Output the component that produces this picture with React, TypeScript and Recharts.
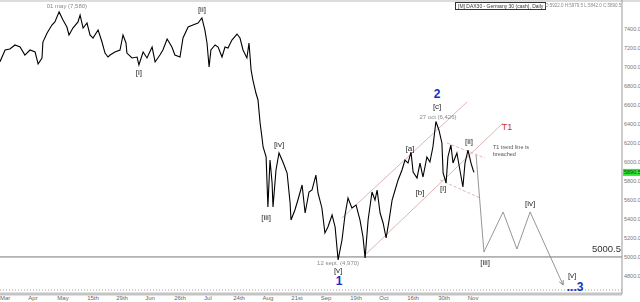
import React from 'react';
import { ComposedChart, Line, XAxis, YAxis, ReferenceLine, ReferenceDot } from 'recharts';

// Daily DAX closes: [trading-day index, price]
const priceSeries: [number, number][] = [
  [0, 7056], [1.7, 7179], [3.3, 7189], [5, 7232], [6.7, 7210], [8.3, 7126], [10, 7179], [11.7, 7158],
  [12.7, 7032], [14, 7095], [14.3, 7263], [15.7, 7358], [17.3, 7442], [18.3, 7474], [19.7, 7580],
  [21, 7495], [22.3, 7421], [23, 7337], [24.3, 7410], [26, 7474], [26.7, 7547], [27.7, 7410],
  [29, 7463], [30, 7337], [31, 7305], [32.7, 7389], [34, 7263], [35, 7147], [36, 7105], [36.7, 7126],
  [38.3, 7158], [40, 7179], [41, 7337], [42, 7253], [42.3, 7147], [44, 7095], [45.7, 7105],
  [46.3, 7021], [47.7, 7158], [49, 7095], [50.7, 7210], [51.7, 7053], [53.3, 7126], [54.3, 7179],
  [55.7, 7295], [57.3, 7210], [58.3, 7126], [60, 7105], [61, 7305], [62.7, 7421], [64.3, 7442],
  [66, 7463], [67.3, 7516], [68.3, 7389], [69, 7253], [69.7, 7000], [70.3, 7179], [71.7, 7232],
  [72.7, 7210], [74, 7105], [75, 7210], [76, 7200], [77.3, 7284], [79, 7347], [80, 7305], [81, 7179],
  [82.3, 7095], [83, 7253], [83.7, 6968], [84.3, 6863], [85.3, 6726], [86, 6653], [86.7, 6410],
  [87.3, 6263], [87.7, 6158], [88.7, 6053], [89.3, 5526], [90, 6021], [90.7, 5779], [91, 5526],
  [92, 5916], [93, 6095], [94.3, 6000], [95.7, 5884], [96.7, 5568], [97, 5389], [98.3, 5495],
  [99.3, 5600], [100.7, 5758], [101.7, 5463], [103, 5684], [104, 5705], [105.3, 5863], [106, 5674],
  [107.3, 5516], [108.3, 5253], [109.3, 5316], [110.7, 5442], [111.7, 5316], [112.7, 4970],
  [114, 5179], [115, 5442], [116, 5621], [117.3, 5516], [118.7, 5547], [120, 5389], [121, 5211],
  [121.7, 4990], [122.7, 5389], [124, 5684], [125, 5600], [125.7, 5705], [126.7, 5463], [127.7, 5358],
  [128.7, 5200], [129.7, 5389], [130.7, 5600], [131.7, 5705], [132.7, 5811], [134, 5916], [135, 6021],
  [136, 5989], [137, 6105], [137.7, 5895], [139, 5832], [140, 5989], [141, 5842], [142.3, 6053],
  [143.3, 6000], [144.3, 6158], [145.3, 6426], [146.3, 6337], [147.3, 6200], [147.7, 5884],
  [148.7, 5779], [149.3, 6053], [150.3, 6179], [151, 5989], [152.3, 6095], [153.3, 5916],
  [154.3, 5737], [155, 5989], [156, 6126], [157, 5989], [157.7, 5916], [158, 5890.5],
];

// Projected wave path [iii] [iv] [v]
const projectionDays = [158.7, 161.3, 167.7, 172.3, 176.7, 187.7];
const projectionValues = [6074, 5053, 5474, 5084, 5474, 4705];

// Trend lines: [day1, value1, day2, value2]
const channelLines: [number, number, number, number][] = [
  [114, 5411, 155.7, 6632],
  [121, 5000, 167.7, 6411],
];
const dashedLines: [number, number, number, number][] = [
  [149, 6200, 161.7, 6042],
  [146.7, 5811, 160, 5621],
];

const supportLevel = 5000.5;
const lastClose = 5890.5;
const footerGuide = 4653;

const yTicks = [4800, 5000, 5200, 5400, 5600, 5800, 6000, 6200, 6400, 6600, 6800, 7000, 7200, 7400];
const xTickDays = [1.7, 11, 21, 31, 40.7, 50, 60, 69.3, 79.7, 89.3, 99, 108.7, 118.7, 128, 137.7, 148, 157.7];
const xTickLabels = ['Mar', 'Apr', 'May', '15th', '29th', 'Jun', '26th', 'Jul', '24th', 'Aug', '21st', 'Sep', '19th', 'Oct', '16th', '30th', 'Nov'];

// Annotations: day, value, text, kind
const annotations: { day: number; value: number; text: string; kind: string }[] = [
  { day: 22.3, value: 7642, text: '01 may (7,580)', kind: 'note' },
  { day: 46.3, value: 6937, text: '[i]', kind: 'wave' },
  { day: 67.3, value: 7610, text: '[ii]', kind: 'wave' },
  { day: 88.7, value: 5421, text: '[iii]', kind: 'wave' },
  { day: 93, value: 6179, text: '[iv]', kind: 'wave' },
  { day: 112.7, value: 4937, text: '12 sept. (4,970)', kind: 'note' },
  { day: 112.7, value: 4853, text: '[v]', kind: 'wave' },
  { day: 113, value: 4747, text: '1', kind: 'major' },
  { day: 136.7, value: 6137, text: '[a]', kind: 'wave' },
  { day: 140, value: 5674, text: '[b]', kind: 'wave' },
  { day: 145.7, value: 6579, text: '[c]', kind: 'wave' },
  { day: 145.7, value: 6716, text: '2', kind: 'major' },
  { day: 146, value: 6474, text: '27 oct (6,426)', kind: 'note' },
  { day: 147.7, value: 5716, text: '[i]', kind: 'wave' },
  { day: 156.3, value: 6211, text: '[ii]', kind: 'wave' },
  { day: 169, value: 6368, text: 'T1', kind: 't1' },
  { day: 164.3, value: 6158, text: 'T1 trend line is', kind: 'comment' },
  { day: 164.3, value: 6084, text: 'breached', kind: 'comment' },
  { day: 161.7, value: 4937, text: '[iii]', kind: 'wave' },
  { day: 176.7, value: 5568, text: '[iv]', kind: 'wave' },
  { day: 190.7, value: 4805, text: '[v]', kind: 'wave' },
  { day: 191.7, value: 4680, text: '...3', kind: 'major' },
  { day: 207, value: 5090, text: '5000.5', kind: 'level' },
];

const FONT = '"Liberation Sans", Arial, sans-serif';
const styles: Record<string, any> = {
  note: { fontSize: 6, fill: '#8a8a8a', anchor: 'middle', weight: 'normal', gray: true },
  wave: { fontSize: 8, fill: '#2a2a2a', anchor: 'middle', weight: 'normal', gray: true },
  major: { fontSize: 12, fill: '#1530c8', anchor: 'middle', weight: 'bold', gray: false },
  t1: { fontSize: 9, fill: '#cc3333', anchor: 'middle', weight: 'normal', gray: false },
  comment: { fontSize: 5.5, fill: '#555', anchor: 'start', weight: 'normal', gray: true },
  level: { fontSize: 9.5, fill: '#333', anchor: 'end', weight: 'normal', gray: true },
};

const priceData = priceSeries.map(([day, close]) => ({ day, close }));
const projectionData = projectionDays.map((day, i) => ({ day, proj: projectionValues[i] }));

const X_MAX = 207.33;
const Y_MIN = 4610.5;
const Y_MAX = 7705.3;

const ArrowDot = (props: any) => {
  const { cx, cy, index } = props;
  if (index !== projectionDays.length - 1) return <g key={index} />;
  const ang = Math.atan2(73, 33);
  const len = 5;
  const a1 = ang + Math.PI - 0.45;
  const a2 = ang + Math.PI + 0.45;
  return (
    <g key={index}>
      <line x1={cx} y1={cy} x2={cx + len * Math.cos(a1)} y2={cy + len * Math.sin(a1)} stroke="#888" strokeWidth={1} />
      <line x1={cx} y1={cy} x2={cx + len * Math.cos(a2)} y2={cy + len * Math.sin(a2)} stroke="#888" strokeWidth={1} />
    </g>
  );
};

export default function App() {
  return (
    <div style={{ position: 'absolute', left: 0, top: 0, width: 640, height: 302, background: '#fff', overflow: 'hidden', fontFamily: FONT }}>
      <div style={{ position: 'absolute', left: 0, top: 0, width: 640, height: 2, background: '#dcdcdc' }} />
      <div style={{ position: 'absolute', left: 455, top: 2, height: 6, border: '1px solid #333', fontSize: 5, lineHeight: '6px', color: '#333', padding: '0 2px', whiteSpace: 'nowrap', background: '#fff', filter: 'grayscale(1)' }}>
        [M] DAX30 - Germany 30 (cash), Daily
      </div>
      <div style={{ position: 'absolute', left: 545, top: 3, fontSize: 4.5, lineHeight: '6px', color: '#888', whiteSpace: 'nowrap', filter: 'grayscale(1)' }}>
        O:5922.0 H:5979.5 L:5842.0 C:5890.5
      </div>
      <ComposedChart width={640} height={302} margin={{ top: 0, right: 0, bottom: 0, left: 0 }} style={{ position: 'absolute', left: 0, top: 0 }}>
        <XAxis
          dataKey="day"
          type="number"
          domain={[0, X_MAX]}
          ticks={xTickDays}
          tickFormatter={(v: number) => {
            const i = xTickDays.indexOf(v);
            return i >= 0 ? xTickLabels[i] : '';
          }}
          height={8}
          axisLine={{ stroke: '#c4c4c4', strokeWidth: 3 }}
          tickLine={false}
          tickSize={0}
          tickMargin={2}
          tick={{ fontSize: 6, fill: '#666', fontFamily: FONT }}
          allowDataOverflow
          interval={0}
        />
        <YAxis
          orientation="right"
          type="number"
          domain={[Y_MIN, Y_MAX]}
          ticks={yTicks}
          width={18}
          axisLine={{ stroke: '#999' }}
          tickLine={false}
          tickSize={0}
          tickMargin={2}
          tick={{ fontSize: 5.5, fill: '#777', fontFamily: FONT, textAnchor: 'start' }}
          tickFormatter={(v: number) => v.toFixed(1)}
          allowDataOverflow
          interval={0}
        />
        <ReferenceLine y={footerGuide} stroke="#cfcfcf" strokeWidth={2} strokeDasharray="1 2" />
        <ReferenceLine y={supportLevel} stroke="#777" strokeWidth={1} />
        {channelLines.map(([d1, v1, d2, v2], i) => (
          <ReferenceLine key={'c' + i} segment={[{ x: d1, y: v1 }, { x: d2, y: v2 }]} stroke="#d4a2a2" strokeWidth={0.8} />
        ))}
        {dashedLines.map(([d1, v1, d2, v2], i) => (
          <ReferenceLine key={'d' + i} segment={[{ x: d1, y: v1 }, { x: d2, y: v2 }]} stroke="#d4a2a2" strokeWidth={0.8} strokeDasharray="3 2" />
        ))}
        <Line data={priceData} dataKey="close" type="linear" stroke="#000" strokeWidth={1.1} dot={false} activeDot={false} legendType="none" isAnimationActive={false} />
        <Line data={projectionData} dataKey="proj" type="linear" stroke="#8a8a8a" strokeWidth={0.9} dot={ArrowDot} activeDot={false} isAnimationActive={false} />
        {annotations.map((a, i) => {
          const s = styles[a.kind];
          return (
            <ReferenceDot
              key={'a' + i}
              x={a.day}
              y={a.value}
              r={0}
              ifOverflow="visible"
              shape={(p: any) => (
                <g>
                  {i === 0 ? (
                    <defs>
                      <filter id="desat" x="-20%" y="-50%" width="140%" height="200%">
                        <feColorMatrix type="saturate" values="0" />
                      </filter>
                    </defs>
                  ) : null}
                  <text
                    x={p.cx}
                    y={p.cy}
                    filter={s.gray ? 'url(#desat)' : undefined}
                    textAnchor={s.anchor}
                    dominantBaseline="central"
                    fontSize={s.fontSize}
                    fill={s.fill}
                    fontWeight={s.weight}
                    fontFamily={FONT}
                  >
                    {a.text}
                  </text>
                </g>
              )}
            />
          );
        })}
        <ReferenceDot
          x={X_MAX}
          y={lastClose}
          r={0}
          ifOverflow="visible"
          shape={(p: any) => (
            <g>
              <rect x={p.cx + 1} y={p.cy - 3.5} width={17} height={7} fill="#33e633" />
              <text x={p.cx + 2} y={p.cy} dominantBaseline="central" fontSize={5.5} fill="#114411" fontFamily={FONT}>
                {lastClose.toFixed(1)}
              </text>
            </g>
          )}
        />
      </ComposedChart>
    </div>
  );
}
